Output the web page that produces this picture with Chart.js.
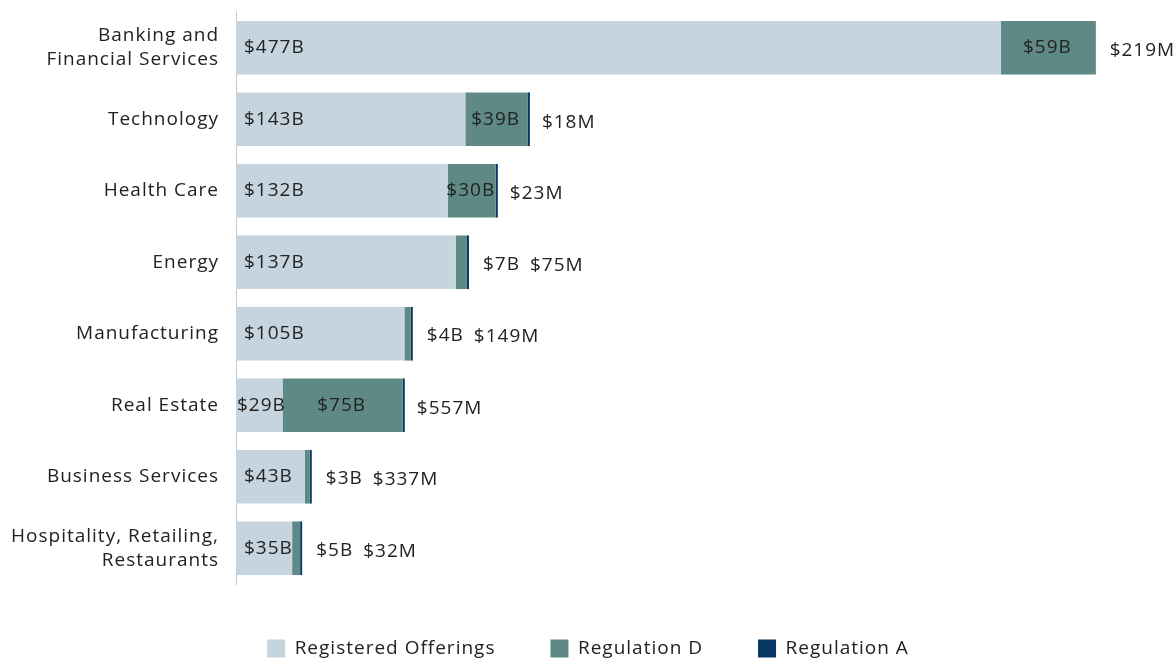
<!DOCTYPE html>
<html><head><meta charset="utf-8">
<script src="https://cdn.jsdelivr.net/npm/chart.js@4"></script>
<style>html,body{margin:0;padding:0;background:#fff}#wrap{width:1174px;height:660px}</style>
</head><body><div id="wrap"><canvas id="c"></canvas></div>
<script>
const categories = [["Banking and","Financial Services"],"Technology","Health Care","Energy","Manufacturing","Real Estate","Business Services",["Hospitality, Retailing,","Restaurants"]];
const registeredB = [477,143,132,137,105,29,43,35];
const regulationDB = [59,39,30,7,4,75,3,5];
const regulationAM = [219,18,23,75,149,557,337,32];
const seriesNames = ["Registered Offerings","Regulation D","Regulation A"];
const colors = ['#c5d4de','#5f8985','#073763'];
const FONT = '"Open Sans", sans-serif';
const FSIZE = 19;
const SPACING = '1px';
const TEXT = '#222222';
const axisMax = 536.22;

const spacingPlugin = {
  id:'spacing',
  beforeInit(chart){ chart.ctx.letterSpacing = SPACING; },
  beforeLayout(chart){ chart.ctx.letterSpacing = SPACING; },
  afterLayout(chart){
    const lg = chart.legend;
    if (lg) { const shift = (chart.width - (lg.left + lg.right)) / 2 + 1; lg.left += shift; lg.right += shift; }
  },
  beforeDraw(chart){ chart.ctx.letterSpacing = SPACING; }
};

const labelPlugin = {
  id:'barLabels',
  afterDatasetsDraw(chart){
    const ctx = chart.ctx;
    const m0 = chart.getDatasetMeta(0), m1 = chart.getDatasetMeta(1), m2 = chart.getDatasetMeta(2);
    ctx.save();
    ctx.letterSpacing = SPACING;
    ctx.font = FSIZE + 'px ' + FONT; ctx.fillStyle = TEXT; ctx.textBaseline = 'middle';
    categories.forEach((c,i)=>{
      const b0=m0.data[i], b1=m1.data[i], b2=m2.data[i];
      const y=b0.y;
      const t0='$'+registeredB[i]+'B';
      const w0=ctx.measureText(t0).width;
      const seg0=b0.x-b0.base;
      ctx.textAlign='left';
      ctx.fillText(t0, b0.base + (w0>seg0?1:8), y);
      const t1='$'+regulationDB[i]+'B';
      const w1=ctx.measureText(t1).width;
      const seg1=b1.x-b1.base;
      const end=Math.max(b2.x, b1.x);
      let next;
      if(seg1>30){ ctx.textAlign='center'; ctx.fillText(t1,(b1.x+b1.base)/2 - 1,y); next=end+12; }
      else { ctx.textAlign='left'; ctx.fillText(t1,end+14,y+2); next=end+14+w1+10; }
      ctx.textAlign='left';
      ctx.fillText('$'+regulationAM[i]+'M', next, y+3);
    });
    ctx.restore();
  }
};

new Chart(document.getElementById('c'),{
  type:'bar',
  data:{labels:categories, datasets:[
    {label:seriesNames[0], data:registeredB, backgroundColor:colors[0]},
    {label:seriesNames[1], data:regulationDB, backgroundColor:colors[1]},
    {label:seriesNames[2], data:regulationAM.map(v=>v/1000), backgroundColor:colors[2], minBarLength:2}
  ]},
  options:{
    indexAxis:'y', responsive:true, maintainAspectRatio:false, animation:false,
    datasets:{bar:{categoryPercentage:1, barPercentage:0.75, borderWidth:0}},
    layout:{padding:{top:12,right:78,left:0,bottom:-8}},
    scales:{
      x:{stacked:true, min:0, max:axisMax, display:false},
      y:{stacked:true, grid:{display:false, drawTicks:false}, border:{color:'#c8c8c8', width:1},
         ticks:{color:TEXT, font:{family:FONT, size:FSIZE, lineHeight:1.25}, padding:17},
         afterFit(s){ s.width = 236; s.paddingTop = 0; s.paddingBottom = 0; }}
    },
    plugins:{
      legend:{position:'bottom', labels:{boxWidth:18, boxHeight:18, padding:55, color:TEXT, font:{family:FONT, size:FSIZE}}},
      tooltip:{enabled:false}
    }
  },
  plugins:[spacingPlugin, labelPlugin]
});
</script>
</body></html>
